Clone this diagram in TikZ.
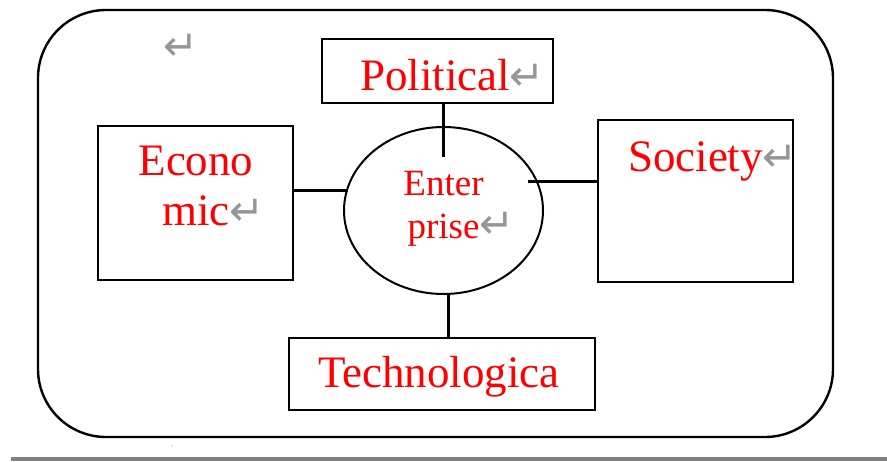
\documentclass[tikz,border=0pt]{standalone}
\usepackage{fontspec}
\setmainfont{Liberation Serif}
\newfontfamily\arrowfont{DejaVu Sans}
\usetikzlibrary{shapes.geometric}
\definecolor{retgray}{RGB}{150,150,150}
\definecolor{bargray}{RGB}{128,128,128}
\newcommand\retmark{{\arrowfont\color{retgray}\fontsize{42}{42}\selectfont ↵}}
\begin{document}
\begin{tikzpicture}[x=1pt, y=-1pt,
  every node/.style={inner sep=0pt, outer sep=0pt},
  box/.style={draw=black, line width=2.4pt, rectangle},
  link/.style={draw=black, line width=3pt},
  word/.style={text=red, font=\fontsize{45}{50}\selectfont}
]
\useasboundingbox (0,0) rectangle (887,461);
% outer frame
\node[draw=black, line width=2.4pt, rounded corners=68pt,
  minimum width=795pt, minimum height=427pt] (frame) at (435.5,223.5) {};
\node[anchor=base west] (loose) at (163,60) {\retmark};
% the four boxes and the circle
\node[box, minimum width=231pt, minimum height=64pt] (pol) at (437.5,71) {};
\node[box, minimum width=195pt, minimum height=154pt] (eco) at (195.5,203) {};
\node[box, minimum width=195pt, minimum height=162pt] (soc) at (695.5,201) {};
\node[box, minimum width=306pt, minimum height=72pt] (tec) at (442,374) {};
\node[draw=black, line width=2pt, ellipse,
  minimum width=199pt, minimum height=167pt] (ent) at (443.5,210.5) {};
% texts
\node[word, anchor=base west] (poltxt) at (360,90) {Political\retmark};
\node[word, align=center, anchor=base] (ecotxt) at (196,225) {Econo\\mic\rlap{\retmark}};
\node[word, anchor=base west] (soctxt) at (628,171) {Society\retmark};
\node[word, anchor=base west] (tectxt) at (318,387) {Technologica};
\node[text=red, font=\fontsize{37}{43}\selectfont, align=center, anchor=base]
  (enttxt) at (443.5,238) {Enter\\prise\rlap{\retmark}};
% connectors
\coordinate (polend) at (443,157);
\coordinate (ecoend) at (348,190);
\coordinate (socend) at (528,181);
\coordinate (tecend) at (448,294);
\draw[link] (pol.south -| polend) -- (polend);
\draw[link] (eco.east |- ecoend) -- (ecoend);
\draw[link] (soc.west |- socend) -- (socend);
\draw[link] (tec.north -| tecend) -- (tecend);
% rule at the foot
\fill[bargray] (11,457) rectangle (887,461);
\fill[retgray] (172,446) circle (0.7pt);
\end{tikzpicture}
\end{document}
